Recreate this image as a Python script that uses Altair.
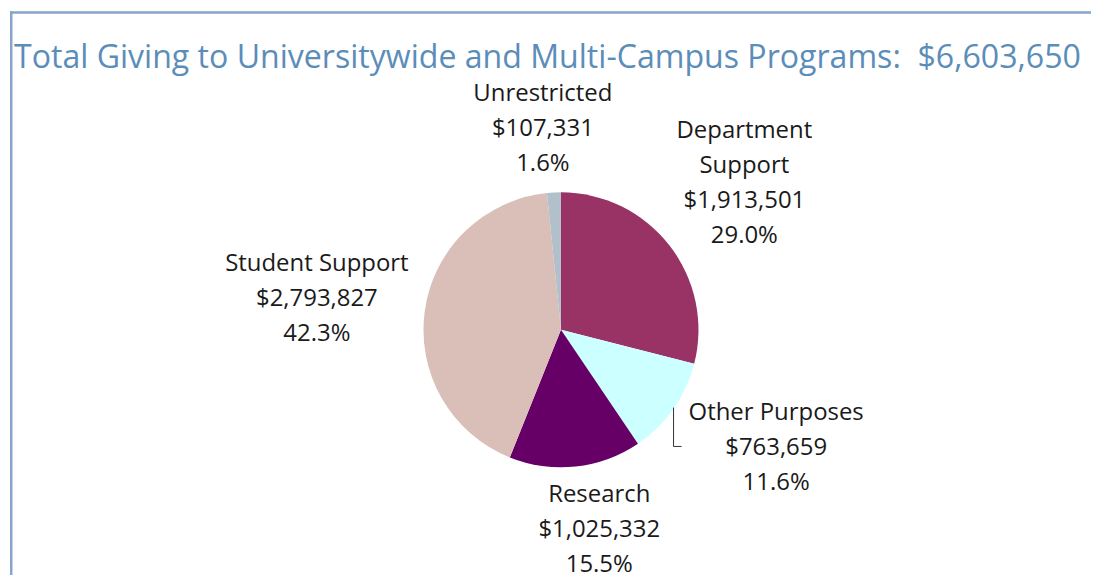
import altair as alt
import pandas as pd

categories = ["Department Support", "Other Purposes", "Research", "Student Support", "Unrestricted"]
label_names = ["Department\nSupport", "Other Purposes", "Research", "Student Support", "Unrestricted"]
values = [1913501, 763659, 1025332, 2793827, 107331]
percents = ["29.0%", "11.6%", "15.5%", "42.3%", "1.6%"]
colors = ["#993366", "#CCFFFF", "#660066", "#D9BFB8", "#B2C0CB"]
title_text = "Total Giving to Universitywide and Multi-Campus Programs:\u00a0 $6,603,650"

df = pd.DataFrame({
    "category": categories,
    "value": values,
    "order": list(range(len(categories))),
    "label": [f"{n}\n${v:,}\n{p}" for n, v, p in zip(label_names, values, percents)],
})

W, H = 1085, 568
CX, CY = 550, 320          # label anchor centre inside the view
PIE_X = CX + 3             # pie centre
PIE_R = 138
LINE_H = 35
FRAME_COLOR = "#87A5C6"

# label placement (radius in px, angular nudge in radians) -- layout only
label_pos = {
    "Department Support": (238, -0.006),
    "Other Purposes": (249, -0.117),
    "Research": (205, -0.097),
    "Student Support": (244, -0.011),
    "Unrestricted": (202, -0.024),
}

base = alt.Chart(df)

pie = base.mark_arc(outerRadius=PIE_R).encode(
    x=alt.value(PIE_X), y=alt.value(CY),
    theta=alt.Theta("value:Q", stack=True),
    order=alt.Order("order:Q"),
    color=alt.Color("category:N", scale=alt.Scale(domain=categories, range=colors), legend=None),
)

angles = base.transform_window(
    cum="sum(value)", sort=[alt.SortField("order")], frame=[None, 0]
).transform_joinaggregate(
    total="sum(value)"
).transform_calculate(
    mid="(datum.cum - datum.value / 2) / datum.total * 2 * PI"
)

label_layers = []
for cat, name in zip(categories, label_names):
    r, dt = label_pos[cat]
    n_lines = name.count("\n") + 3
    label_layers.append(
        angles.transform_filter(alt.datum.category == cat).transform_calculate(
            ang=f"datum.mid + ({dt})"
        ).mark_text(
            lineBreak="\n", fontSize=24, font="Open Sans", color="#1A1A1A", lineHeight=LINE_H,
            align="center", baseline="middle", radius=r, dy=-(n_lines - 1) * LINE_H / 2,
        ).encode(
            x=alt.value(CX), y=alt.value(CY),
            theta=alt.Theta("ang:Q", scale=None, stack=False),
            text="label:N",
        )
    )

# leader line for the "Other Purposes" label (annotation, relative to the label anchor)
one = alt.Chart(pd.DataFrame({"f": [0]}))
leader_v = one.mark_rule(color="#333333", strokeWidth=1).encode(
    x=alt.value(CX + 116), y=alt.value(CY + 78), y2=alt.value(CY + 117)
)
leader_h = one.mark_rule(color="#333333", strokeWidth=1).encode(
    x=alt.value(CX + 116), x2=alt.value(CX + 124), y=alt.value(CY + 117)
)

# frame: top and left edges of the box (continues off the page on the right and bottom)
frame_top = one.mark_rule(color=FRAME_COLOR, strokeWidth=2.5).encode(
    x=alt.value(0), x2=alt.value(W), y=alt.value(1.5)
)
frame_left = one.mark_rule(color=FRAME_COLOR, strokeWidth=2.5).encode(
    x=alt.value(1.25), y=alt.value(0), y2=alt.value(H)
)

title = alt.Chart(pd.DataFrame({"t": [title_text]})).mark_text(
    align="left", baseline="alphabetic", fontSize=32.2, font="Open Sans", color="#5B8DB9"
).encode(x=alt.value(4), y=alt.value(57), text="t:N")

chart = alt.layer(frame_top, frame_left, pie, leader_v, leader_h, *label_layers, title).properties(
    width=W,
    height=H,
    padding=0,
).configure_view(stroke=None)

chart.save("out.html", embed_options={"renderer": "svg", "actions": False})
